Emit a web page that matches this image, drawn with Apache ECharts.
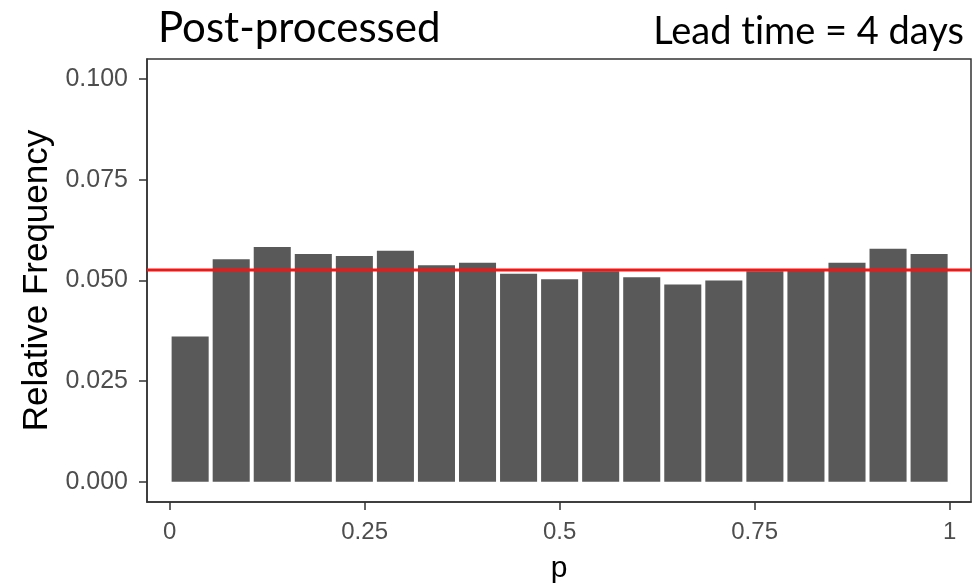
<!DOCTYPE html>
<html>
<head>
<meta charset="utf-8">
<script src="https://cdn.jsdelivr.net/npm/echarts@6/dist/echarts.min.js"></script>
<style>
  html, body { margin: 0; padding: 0; background: #fff; }
  #chart { width: 977px; height: 584px; }
</style>
</head>
<body>
<div id="chart"></div>
<script>
// PIT histogram: relative frequency of p in 19 equal bins on [0, 1]
const binCount = 19;
const relFreq = [
  0.0361, 0.0553, 0.0583, 0.0566, 0.0561, 0.0574, 0.0538, 0.0544, 0.0517, 0.0503,
  0.0523, 0.0508, 0.0490, 0.0500, 0.0523, 0.0528, 0.0544, 0.0579, 0.0566
];
const uniformLevel = 1 / binCount;
const xTicks = [0, 0.25, 0.5, 0.75, 1];
const xTickLabels = ['0', '0.25', '0.5', '0.75', '1'];
const yTicks = [0, 0.025, 0.05, 0.075, 0.1];
const yTickLabels = ['0.000', '0.025', '0.050', '0.075', '0.100'];

const xMin = -0.029, xMax = 1.0274;
const yMin = -0.005, yMax = 0.105;

const binData = relFreq.map((v, i) => [i / binCount, (i + 1) / binCount, v]);

const chart = echarts.init(document.getElementById('chart'), null, { renderer: 'canvas' });

const axisColor = '#333333';
const labelColor = '#4d4d4d';

chart.setOption({
  animation: false,
  backgroundColor: '#ffffff',
  title: [
    {
      text: 'Post-processed',
      left: 153, top: 2,
      textStyle: { fontFamily: 'Lato', fontSize: 42, fontWeight: 'normal', color: '#000' }
    },
    {
      // zero-width non-joiner keeps "t" and "i" as separate glyphs
      text: 'Lead t\u200Cime = 4 days',
      right: 8, top: 8,
      textStyle: { fontFamily: 'Lato', fontSize: 38, fontWeight: 'normal', color: '#000' }
    }
  ],
  grid: {
    left: 147, top: 59, right: 6, bottom: 82,
    outerBoundsMode: 'none',
    containLabel: false,
    show: true, borderColor: axisColor, borderWidth: 1.5, backgroundColor: '#fff'
  },
  xAxis: {
    type: 'value',
    min: xMin, max: xMax,
    name: 'p',
    nameLocation: 'middle',
    nameGap: 52,
    nameTextStyle: { fontFamily: 'Liberation Sans', fontSize: 30, color: '#000' },
    splitLine: { show: false },
    axisLine: { show: true, onZero: false, lineStyle: { color: axisColor, width: 1.5 } },
    axisTick: { show: true, length: 8, customValues: xTicks, lineStyle: { color: axisColor, width: 1.5 } },
    axisLabel: {
      customValues: xTicks,
      margin: 18,
      fontFamily: 'Liberation Sans', fontSize: 24, color: labelColor,
      formatter: v => xTickLabels[xTicks.findIndex(t => Math.abs(t - v) < 1e-9)]
    }
  },
  yAxis: {
    type: 'value',
    min: yMin, max: yMax,
    name: 'Relative Frequency',
    nameLocation: 'middle',
    nameRotate: 90,
    nameGap: 91,
    nameTextStyle: { fontFamily: 'Liberation Sans', fontSize: 35, color: '#000' },
    splitLine: { show: false },
    axisLine: { show: true, onZero: false, lineStyle: { color: axisColor, width: 1.5 } },
    axisTick: { show: true, length: 8, customValues: yTicks, lineStyle: { color: axisColor, width: 1.5 } },
    axisLabel: {
      customValues: yTicks,
      margin: 19,
      fontFamily: 'Liberation Sans', fontSize: 25, color: labelColor,
      formatter: v => yTickLabels[yTicks.findIndex(t => Math.abs(t - v) < 1e-9)]
    }
  },
  series: [
    {
      type: 'custom',
      data: binData,
      encode: { x: [0, 1], y: 2 },
      renderItem: (params, api) => {
        const p0 = api.coord([api.value(0), 0]);
        const p1 = api.coord([api.value(1), api.value(2)]);
        const gap = 2;
        return {
          type: 'rect',
          shape: { x: p0[0] + gap, y: p1[1], width: p1[0] - p0[0] - 2 * gap, height: p0[1] - p1[1] },
          style: { fill: '#595959' }
        };
      },
      z: 2
    },
    {
      // reference level of a uniform histogram
      type: 'line',
      data: [[xMin, uniformLevel], [xMax, uniformLevel]],
      symbol: 'none',
      silent: true,
      lineStyle: { color: '#f21616', width: 3 },
      z: 3
    }
  ]
});
</script>
</body>
</html>
